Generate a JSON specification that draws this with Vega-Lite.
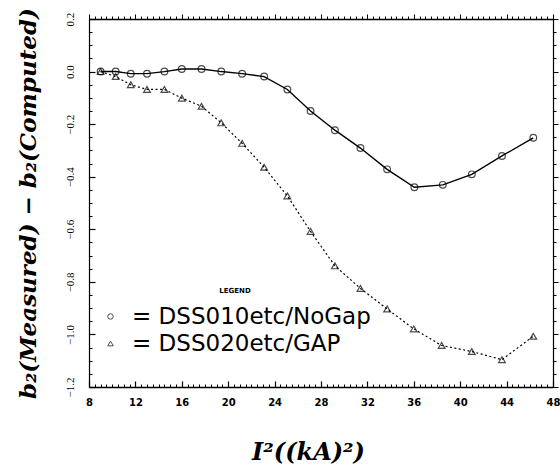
{
 "$schema": "https://vega.github.io/schema/vega-lite/v6.json",
 "width": 464, "height": 368,
 "autosize": {"type": "none"},
 "padding": {"left": 89, "top": 19, "right": 7, "bottom": 80},
 "background": "white",
 "config": {"view": {"stroke": null}, "axis": {"grid": false, "domainColor": "black", "tickColor": "black", "labelColor": "black", "titleColor": "black"}},
 "data": {"values": [
  {"x": 9.0, "y": 0.0, "s": "DSS010etc/NoGap"},
  {"x": 10.3, "y": 0.0, "s": "DSS010etc/NoGap"},
  {"x": 11.6, "y": -0.008, "s": "DSS010etc/NoGap"},
  {"x": 13.0, "y": -0.008, "s": "DSS010etc/NoGap"},
  {"x": 14.5, "y": 0.0, "s": "DSS010etc/NoGap"},
  {"x": 16.0, "y": 0.01, "s": "DSS010etc/NoGap"},
  {"x": 17.7, "y": 0.01, "s": "DSS010etc/NoGap"},
  {"x": 19.4, "y": 0.0, "s": "DSS010etc/NoGap"},
  {"x": 21.2, "y": -0.008, "s": "DSS010etc/NoGap"},
  {"x": 23.1, "y": -0.019, "s": "DSS010etc/NoGap"},
  {"x": 25.1, "y": -0.068, "s": "DSS010etc/NoGap"},
  {"x": 27.1, "y": -0.15, "s": "DSS010etc/NoGap"},
  {"x": 29.2, "y": -0.223, "s": "DSS010etc/NoGap"},
  {"x": 31.4, "y": -0.291, "s": "DSS010etc/NoGap"},
  {"x": 33.7, "y": -0.372, "s": "DSS010etc/NoGap"},
  {"x": 36.05, "y": -0.44, "s": "DSS010etc/NoGap"},
  {"x": 38.5, "y": -0.431, "s": "DSS010etc/NoGap"},
  {"x": 41.0, "y": -0.391, "s": "DSS010etc/NoGap"},
  {"x": 43.6, "y": -0.321, "s": "DSS010etc/NoGap"},
  {"x": 46.3, "y": -0.252, "s": "DSS010etc/NoGap"},
  {"x": 9.0, "y": 0.0, "s": "DSS020etc/GAP"},
  {"x": 10.3, "y": -0.019, "s": "DSS020etc/GAP"},
  {"x": 11.6, "y": -0.05, "s": "DSS020etc/GAP"},
  {"x": 13.0, "y": -0.068, "s": "DSS020etc/GAP"},
  {"x": 14.5, "y": -0.068, "s": "DSS020etc/GAP"},
  {"x": 16.0, "y": -0.101, "s": "DSS020etc/GAP"},
  {"x": 17.7, "y": -0.132, "s": "DSS020etc/GAP"},
  {"x": 19.4, "y": -0.195, "s": "DSS020etc/GAP"},
  {"x": 21.2, "y": -0.273, "s": "DSS020etc/GAP"},
  {"x": 23.1, "y": -0.364, "s": "DSS020etc/GAP"},
  {"x": 25.1, "y": -0.473, "s": "DSS020etc/GAP"},
  {"x": 27.1, "y": -0.608, "s": "DSS020etc/GAP"},
  {"x": 29.2, "y": -0.739, "s": "DSS020etc/GAP"},
  {"x": 31.4, "y": -0.825, "s": "DSS020etc/GAP"},
  {"x": 33.7, "y": -0.903, "s": "DSS020etc/GAP"},
  {"x": 36.0, "y": -0.979, "s": "DSS020etc/GAP"},
  {"x": 38.4, "y": -1.042, "s": "DSS020etc/GAP"},
  {"x": 41.0, "y": -1.065, "s": "DSS020etc/GAP"},
  {"x": 43.6, "y": -1.096, "s": "DSS020etc/GAP"},
  {"x": 46.3, "y": -1.007, "s": "DSS020etc/GAP"}
 ]},
 "layer": [
  {
   "transform": [{"filter": "datum.s == 'DSS010etc/NoGap'"}],
   "mark": {"type": "line", "color": "black", "strokeWidth": 1.4},
   "encoding": {
    "x": {"field": "x", "type": "quantitative", "scale": {"domain": [8, 48], "nice": false, "zero": false},
      "axis": {"orient": "bottom", "values": [8,12,16,20,24,28,32,36,40,44,48], "format": "d", "tickSize": -6, "tickWidth": 1.2, "domainWidth": 1.5,
        "labelFont": "DejaVu Sans", "labelFontWeight": "bold", "labelFontSize": 10, "labelPadding": 16, "labelFlush": false,
        "title": "I²((kA)²)", "titleFont": "DejaVu Serif", "titleFontStyle": "italic", "titleFontWeight": "bold", "titleFontSize": 24,
        "titleX": 219, "titleY": 72, "titleBaseline": "alphabetic"}},
    "y": {"field": "y", "type": "quantitative", "scale": {"domain": [-1.2, 0.2], "nice": false, "zero": false},
      "axis": {"orient": "left", "values": [-1.2,-1.0,-0.8,-0.6,-0.4,-0.2,0.0,0.2], "format": ".1f", "tickSize": -6, "tickWidth": 1.2, "domainWidth": 1.2,
        "labelFont": "Liberation Serif", "labelFontSize": 11, "labelAngle": -90, "labelAlign": "center", "labelBaseline": "bottom", "labelPadding": 20, "labelFlush": false,
        "title": "b₂(Measured) − b₂(Computed)", "titleFont": "DejaVu Serif", "titleFontStyle": "italic", "titleFontWeight": "bold", "titleFontSize": 23, "titlePadding": 24}}
   }
  },
  {
   "transform": [{"filter": "datum.s == 'DSS020etc/GAP'"}],
   "mark": {"type": "line", "color": "black", "strokeWidth": 1.2, "strokeDash": [2, 2.5]},
   "encoding": {
    "x": {"field": "x", "type": "quantitative", "axis": null},
    "y": {"field": "y", "type": "quantitative", "axis": null}
   }
  },
  {
   "mark": {"type": "point", "filled": false, "color": "black", "size": 45, "strokeWidth": 1.2},
   "encoding": {
    "x": {"field": "x", "type": "quantitative", "axis": {"orient": "top", "values": [8,12,16,20,24,28,32,36,40,44,48], "labels": false, "tickSize": 5, "domainWidth": 1.5, "title": null}},
    "y": {"field": "y", "type": "quantitative", "axis": {"orient": "right", "values": [-1.2,-1.0,-0.8,-0.6,-0.4,-0.2,0.0,0.2], "labels": false, "tickSize": 5, "domainWidth": 1.2, "title": null}},
    "shape": {"field": "s", "type": "nominal", "scale": {"domain": ["DSS010etc/NoGap", "DSS020etc/GAP"], "range": ["circle", "triangle-up"]},
      "legend": {"orient": "none", "legendX": 10, "legendY": 268, "title": "LEGEND", "titleFont": "DejaVu Sans", "titleFontSize": 7, "titleFontWeight": "bold", "titleAnchor": "middle", "titlePadding": 11,
        "labelFont": "DejaVu Sans", "labelFontSize": 23, "labelFontWeight": "normal", "labelExpr": "'= ' + datum.label", "labelOffset": 10, "labelLimit": 400,
        "symbolSize": 30, "symbolStrokeColor": "black", "symbolStrokeWidth": 1, "rowPadding": 3}}
   }
  },
  {
   "mark": {"type": "point", "opacity": 0},
   "encoding": {
    "x": {"field": "x", "type": "quantitative", "axis": {"orient": "bottom", "values": [8,8.5,9,9.5,10,10.5,11,11.5,12,12.5,13,13.5,14,14.5,15,15.5,16,16.5,17,17.5,18,18.5,19,19.5,20,20.5,21,21.5,22,22.5,23,23.5,24,24.5,25,25.5,26,26.5,27,27.5,28,28.5,29,29.5,30,30.5,31,31.5,32,32.5,33,33.5,34,34.5,35,35.5,36,36.5,37,37.5,38,38.5,39,39.5,40,40.5,41,41.5,42,42.5,43,43.5,44,44.5,45,45.5,46,46.5,47,47.5,48], "labels": false, "domain": false, "tickSize": -3, "title": null}},
    "y": {"field": "y", "type": "quantitative", "axis": {"orient": "left", "values": [-1.2,-1.15,-1.1,-1.05,-1.0,-0.95,-0.9,-0.85,-0.8,-0.75,-0.7,-0.65,-0.6,-0.55,-0.5,-0.45,-0.4,-0.35,-0.3,-0.25,-0.2,-0.15,-0.1,-0.05,0.0,0.05,0.1,0.15,0.2], "labels": false, "domain": false, "tickSize": -3, "title": null}}
   }
  },
  {
   "mark": {"type": "point", "opacity": 0},
   "encoding": {
    "x": {"field": "x", "type": "quantitative", "axis": {"orient": "top", "values": [8,8.5,9,9.5,10,10.5,11,11.5,12,12.5,13,13.5,14,14.5,15,15.5,16,16.5,17,17.5,18,18.5,19,19.5,20,20.5,21,21.5,22,22.5,23,23.5,24,24.5,25,25.5,26,26.5,27,27.5,28,28.5,29,29.5,30,30.5,31,31.5,32,32.5,33,33.5,34,34.5,35,35.5,36,36.5,37,37.5,38,38.5,39,39.5,40,40.5,41,41.5,42,42.5,43,43.5,44,44.5,45,45.5,46,46.5,47,47.5,48], "labels": false, "domain": false, "tickSize": 3, "title": null}},
    "y": {"field": "y", "type": "quantitative", "axis": {"orient": "right", "values": [-1.2,-1.15,-1.1,-1.05,-1.0,-0.95,-0.9,-0.85,-0.8,-0.75,-0.7,-0.65,-0.6,-0.55,-0.5,-0.45,-0.4,-0.35,-0.3,-0.25,-0.2,-0.15,-0.1,-0.05,0.0,0.05,0.1,0.15,0.2], "labels": false, "domain": false, "tickSize": 3, "title": null}}
   }
  }
 ],
 "resolve": {"axis": {"x": "independent", "y": "independent"}}
}
